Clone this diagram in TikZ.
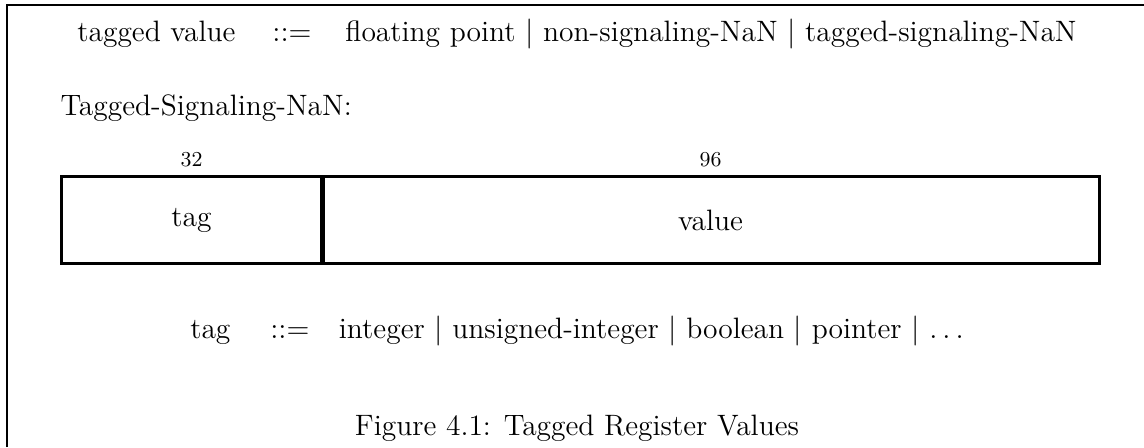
\documentclass[tikz,border=0pt]{standalone}
\usepackage{amsmath,amssymb}
\usetikzlibrary{positioning}

\begin{document}
\begin{tikzpicture}[x=0.4pt, y=-0.4pt, font=\fontsize{11.8}{14}\selectfont]
		
		\tikzstyle{field}=[draw, line width=1.2pt, minimum height=34.8pt,
		inner sep=0pt, anchor=north west]
		\tikzstyle{bits}=[inner sep=0pt, font=\fontsize{8.5}{10}\selectfont]
		\tikzstyle{line}=[anchor=base, inner sep=0pt]
		
		\useasboundingbox (0,0) rectangle (1144,447);
		
		% Frame (open at right and bottom)
		\draw[line width=1pt] (7,447) -- (7,5) -- (1144,5);
		
		% Grammar line
		\node[line] (defn) at (577,41)
		{tagged value\hspace{1.25em}$::=$\hspace{1.15em}floating point $|$ non-signaling-NaN $|$ tagged-signaling-NaN};
		\node[line, anchor=base west] (nanlbl) at (60,115) {Tagged-Signaling-NaN:};
		
		% Register layout
		\node[field, minimum width=104pt] (tagf) at (60,175) {tag};
		\node[field, minimum width=311.2pt] (valf) at (320,175) {value};
		\draw[line width=1.6pt] (tagf.north east) -- (tagf.south east);
		\node[bits, above=3.2pt of tagf] (tagw) {32};
		\node[bits, above=3.2pt of valf] (valw) {96};
		
		% Tag alternatives
		\node[line] (tagdef) at (577,338)
		{tag\hspace{1.35em}$::=$\hspace{1em}integer $|$ unsigned-integer $|$ boolean $|$ pointer $|$ $\ldots$};
		
		\node[line] (caption) at (577,435) {Figure 4.1: Tagged Register Values};
		
		\end{tikzpicture}
\end{document}
